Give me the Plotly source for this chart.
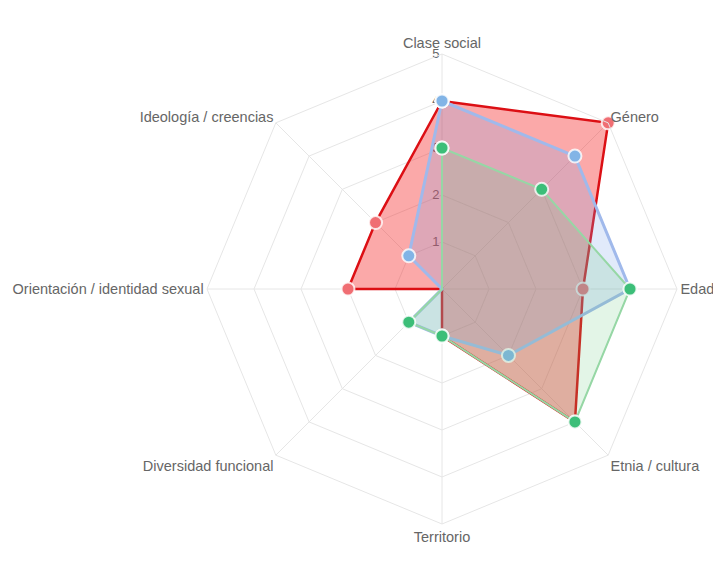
import plotly.graph_objects as go

categories = ["Clase social", "Género", "Edad", "Etnia / cultura", "Territorio",
              "Diversidad funcional", "Orientación / identidad sexual", "Ideología / creencias"]
red_values = [4, 5, 3, 4, 1, 0, 2, 2]
blue_values = [4, 4, 4, 2, 1, 1, 0, 1]
green_values = [3, 3, 4, 4, 1, 1, 0, 0]
radial_ticks = [1, 2, 3, 4, 5]

def closed(v):
    return list(v) + [v[0]]

theta = closed(categories)

series = [
    (red_values, "rgb(220,15,20)", "rgba(245,30,30,0.38)", "rgb(240,110,115)", 2.5),
    (blue_values, "rgb(160,185,235)", "rgba(120,160,230,0.22)", "rgb(130,180,230)", 3),
    (green_values, "rgb(150,215,165)", "rgba(100,200,120,0.18)", "rgb(60,190,120)", 2),
]

fig = go.Figure()
for vals, line_c, fill_c, marker_c, lw in series:
    fig.add_trace(go.Scatterpolar(
        r=closed(vals), theta=theta, mode="lines+markers",
        fill="toself", fillcolor=fill_c,
        line=dict(color=line_c, width=lw),
        marker=dict(size=13, color=marker_c, line=dict(color="rgba(255,255,255,0.8)", width=2)),
        showlegend=False, hoverinfo="skip",
    ))

fig.update_layout(
    width=713, height=563,
    paper_bgcolor="white",
    margin=dict(l=207, r=36, t=54, b=39),
    font=dict(family="Liberation Sans, Arial, sans-serif", size=14.5, color="#666"),
    polar=dict(
        bgcolor="white",
        gridshape="linear",
        angularaxis=dict(direction="clockwise", rotation=90,
                         showline=True, linecolor="#e6e6e6", linewidth=1,
                         gridcolor="#e6e6e6", ticks="",
                         tickfont=dict(size=14.5, color="#666")),
        radialaxis=dict(range=[0, 5], tickvals=radial_ticks, angle=90,
                        tickangle=90, side="counterclockwise",
                        showline=False, gridcolor="#e6e6e6", ticks="",
                        layer="below traces",
                        tickfont=dict(size=13, color="#666")),
    ),
)

fig.write_html("out.html", config={"displayModeBar": False},
               post_script="document.body.style.margin='0';")
